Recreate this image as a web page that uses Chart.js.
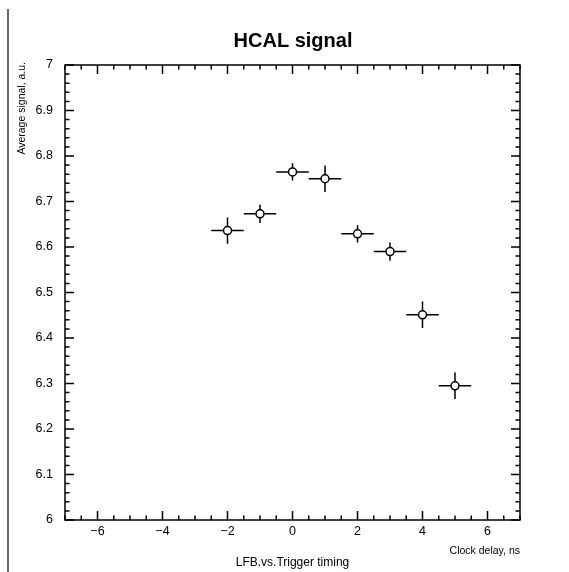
<!DOCTYPE html>
<html>
<head>
<meta charset="utf-8">
<script src="https://cdn.jsdelivr.net/npm/chart.js@4.4.1/dist/chart.umd.min.js"></script>
<style>
html,body{margin:0;padding:0;background:#fff;}
canvas{display:block;}
</style>
</head>
<body>
<canvas id="c" width="569" height="572"></canvas>
<script>
// data
const delays    = [-2, -1, 0, 1, 2, 3, 4, 5];
const signal    = [6.636, 6.673, 6.765, 6.750, 6.629, 6.590, 6.451, 6.295];
const signalErr = [0.029, 0.020, 0.019, 0.029, 0.019, 0.020, 0.029, 0.029];
const delayErr  = [0.5, 0.5, 0.5, 0.5, 0.5, 0.5, 0.5, 0.5];

const xTicks = [-6, -4, -2, 0, 2, 4, 6];
const yTicks = [6, 6.1, 6.2, 6.3, 6.4, 6.5, 6.6, 6.7, 6.8, 6.9, 7];

const FONT = "'Liberation Sans', Arial, sans-serif";

function minorVals(min, max, step){
  const out = [];
  const n = Math.round((max - min) / step);
  for(let i = 0; i <= n; i++) out.push(+(min + i*step).toFixed(4));
  return out;
}
const fmt = (v) => String(+v.toFixed(2)).replace("-", "\u2212");

// error bars under the markers
const errorBars = {
  id: "errorBars",
  beforeDatasetsDraw(chart){
    const {ctx, scales:{x, y}} = chart;
    ctx.save();
    ctx.strokeStyle = "#000";
    ctx.lineWidth = 1.5;
    delays.forEach((d, i) => {
      const px = x.getPixelForValue(d), py = y.getPixelForValue(signal[i]);
      ctx.beginPath();
      ctx.moveTo(x.getPixelForValue(d - delayErr[i]), py);
      ctx.lineTo(x.getPixelForValue(d + delayErr[i]), py);
      ctx.moveTo(px, y.getPixelForValue(signal[i] - signalErr[i]));
      ctx.lineTo(px, y.getPixelForValue(signal[i] + signalErr[i]));
      ctx.stroke();
    });
    ctx.restore();
  }
};

// frame, inward ticks on all four sides, texts
const decor = {
  id: "decor",
  afterDraw(chart){
    const {ctx, chartArea:a, scales:{x, y}} = chart;
    ctx.save();
    ctx.strokeStyle = "#000";
    ctx.lineWidth = 1.5;
    ctx.strokeRect(a.left, a.top, a.right - a.left, a.bottom - a.top);

    const tick = (px, len, vertical) => {
      if(vertical){
        ctx.moveTo(px, a.bottom); ctx.lineTo(px, a.bottom - len);
        ctx.moveTo(px, a.top); ctx.lineTo(px, a.top + len);
      } else {
        ctx.moveTo(a.left, px); ctx.lineTo(a.left + len, px);
        ctx.moveTo(a.right, px); ctx.lineTo(a.right - len, px);
      }
    };
    ctx.beginPath();
    minorVals(x.min, x.max, 0.5).forEach(v => tick(x.getPixelForValue(v), 4.5, true));
    xTicks.forEach(v => tick(x.getPixelForValue(v), 9, true));
    minorVals(y.min, y.max, 0.02).forEach(v => tick(y.getPixelForValue(v), 4.5, false));
    yTicks.forEach(v => tick(y.getPixelForValue(v), 9, false));
    ctx.stroke();

    // left border line of the canvas
    ctx.strokeStyle = "#333";
    ctx.beginPath(); ctx.moveTo(8, 9); ctx.lineTo(8, 572); ctx.stroke();

    ctx.fillStyle = "#000";
    ctx.font = `bold 20px ${FONT}`;
    ctx.textAlign = "center"; ctx.textBaseline = "alphabetic";
    ctx.fillText("HCAL signal", 293, 46.5);

    ctx.font = `10.5px ${FONT}`;
    ctx.textAlign = "right";
    ctx.fillText("Clock delay, ns", 520, 554);

    ctx.font = `12px ${FONT}`;
    ctx.textAlign = "center";
    ctx.fillText("LFB.vs.Trigger timing", 292.5, 566);

    ctx.translate(25, 62);
    ctx.rotate(-Math.PI/2);
    ctx.font = `10.5px ${FONT}`;
    ctx.textAlign = "right";
    ctx.fillText("Average signal, a.u.", 0, 0);
    ctx.restore();
  }
};

new Chart(document.getElementById("c").getContext("2d"), {
  type: "scatter",
  data: {
    datasets: [{
      data: delays.map((d, i) => ({x: d, y: signal[i]})),
      pointRadius: 4,
      pointHoverRadius: 4,
      pointBackgroundColor: "#fff",
      pointBorderColor: "#000",
      pointBorderWidth: 1.5
    }]
  },
  options: {
    responsive: false,
    animation: false,
    events: [],
    layout: { padding: { top: 65, right: 49, bottom: 0, left: 0 } },
    plugins: { legend: { display: false }, tooltip: { enabled: false }, title: { display: false } },
    scales: {
      x: {
        type: "linear", min: -7, max: 7,
        afterBuildTicks: (s) => { s.ticks = xTicks.map(v => ({value: v})); },
        afterFit: (s) => { s.height = 52; },
        grid: { display: false, drawTicks: false },
        border: { display: false },
        ticks: { color: "#000", padding: 4, maxRotation: 0, font: { family: FONT, size: 12.5 }, callback: (v) => fmt(v) }
      },
      y: {
        type: "linear", min: 6, max: 7,
        afterBuildTicks: (s) => { s.ticks = yTicks.map(v => ({value: v})); },
        afterFit: (s) => { s.width = 65; },
        grid: { display: false, drawTicks: false },
        border: { display: false },
        ticks: { color: "#000", padding: 12, font: { family: FONT, size: 12.5 }, callback: (v) => fmt(v) }
      }
    }
  },
  plugins: [errorBars, decor]
});
</script>
</body>
</html>
